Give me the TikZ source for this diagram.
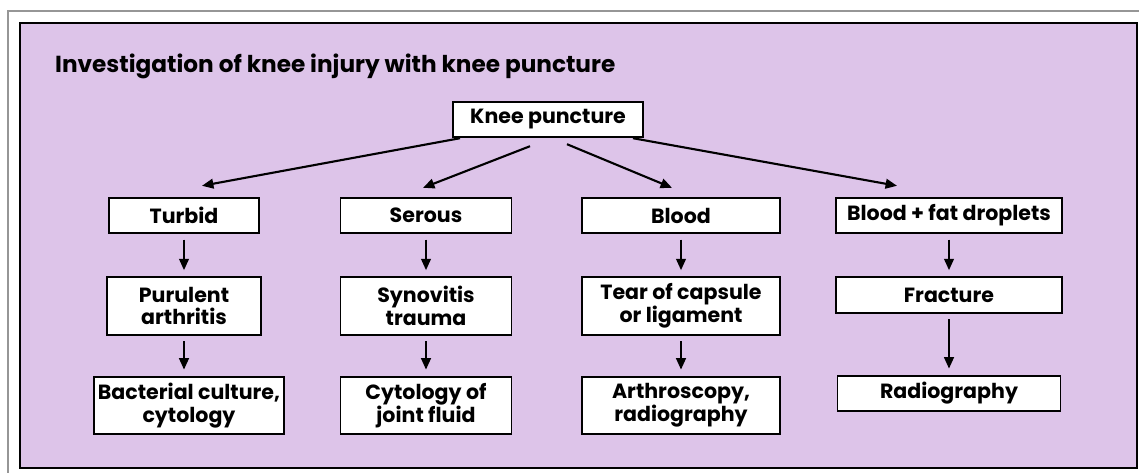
\documentclass[tikz,border=0pt]{standalone}
\usepackage{fontspec}
\setmainfont{Poppins}
\usepackage{xcolor}
\usetikzlibrary{arrows.meta,positioning}

\definecolor{lilac}{RGB}{221,196,233}
\definecolor{framegray}{RGB}{150,150,150}

\begin{document}
\begin{tikzpicture}[
    x=0.02cm, y=-0.02cm,
    box/.style={rectangle, draw=black, fill=white, line width=1.1pt, align=center, minimum height=0.71cm, inner sep=2pt, font=\fontsize{11.7}{13}\selectfont\bfseries},
    tallbox/.style={box, minimum height=1.15cm},
    arrow/.style={-{Triangle[length=6.5pt,width=5.5pt]}, line width=1.2pt, draw=black}
]
    \useasboundingbox (0,0) rectangle (1139,473);
    \draw [framegray, line width=1.7pt] (8,473) -- (8,11) -- (1139,11);
    \draw [line width=1.6pt, fill=lilac] (20,23) rectangle (1137,468);

    \node [anchor=base west, font=\fontsize{13.2}{15}\selectfont\bfseries] (title) at (49,73) {Investigation of knee injury with knee puncture};

    \node [box, minimum width=3.8cm] (punct) at (548,119.5) {Knee puncture};

    \node [box, minimum width=3.0cm] (turbid) at (184,215.5) {Turbid};
    \node [box, minimum width=3.42cm] (serous) at (426,215.5) {Serous};
    \node [box, minimum width=3.96cm] (blood) at (681,215.5) {Blood};
    \node [box, minimum width=4.52cm] (fat) at (949,215.5) {Blood + fat droplets};

    \node [tallbox, minimum width=3.08cm, below=0.84cm of turbid] (purul) {Purulent\\arthritis};
    \node [tallbox, minimum width=3.42cm, below=0.84cm of serous] (synov) {Synovitis\\trauma};
    \node [tallbox, minimum width=3.96cm, below=0.84cm of blood] (tear) {Tear of capsule\\or ligament};
    \node [box, minimum width=4.52cm, below=0.84cm of fat] (fract) {Fracture};

    \node [tallbox, minimum width=3.76cm, below=0.8cm of purul, xshift=0.1cm] (bact) {Bacterial culture,\\cytology};
    \node [tallbox, minimum width=3.42cm, below=0.8cm of synov] (cyto) {Cytology of\\joint fluid};
    \node [tallbox, minimum width=3.96cm, below=0.8cm of tear] (arthro) {Arthroscopy,\\radiography};
    \node [box, minimum width=4.46cm, below=1.22cm of fract] (radio) {Radiography};

    % from the puncture to the four findings
    \draw [arrow] ([xshift=-1.76cm]punct.south) -- ([xshift=0.36cm,yshift=0.22cm]turbid.north);
    \draw [arrow] ([xshift=-0.36cm,yshift=-0.16cm]punct.south) -- ([xshift=-0.06cm,yshift=0.18cm]serous.north);
    \draw [arrow] ([xshift=0.38cm,yshift=-0.12cm]punct.south) -- ([xshift=-0.18cm,yshift=0.18cm]blood.north);
    \draw [arrow] ([xshift=1.7cm]punct.south) -- ([xshift=-1.04cm,yshift=0.22cm]fat.north);

    % down each column
    \foreach \a/\b in {turbid/purul, purul/bact, serous/synov, synov/cyto, blood/tear, tear/arthro, fat/fract, fract/radio}
        \draw [arrow, shorten <=0.11cm, shorten >=0.12cm] (\a.south) -- (\a.south |- \b.north);
\end{tikzpicture}
\end{document}
